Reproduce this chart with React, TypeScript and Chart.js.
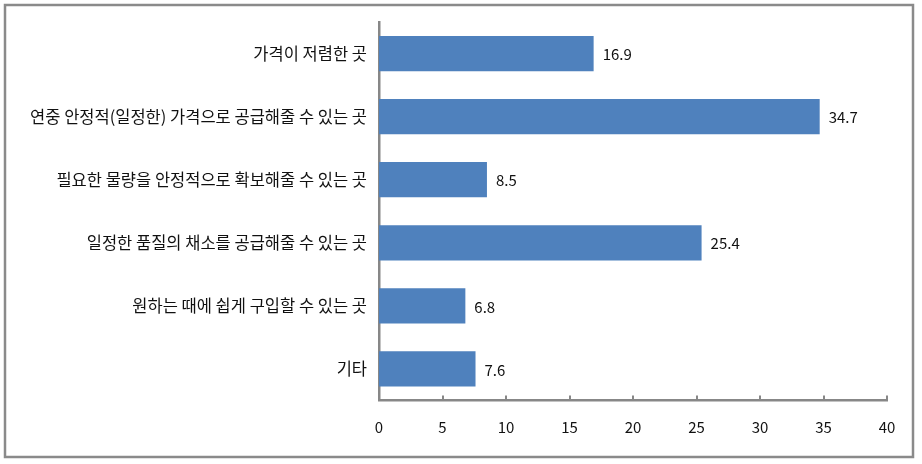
import React, { useEffect, useRef } from "react";
import { Chart, registerables } from "chart.js";

Chart.register(...registerables);

const categories = [
  "가격이 저렴한 곳",
  "연중 안정적(일정한) 가격으로 공급해줄 수 있는 곳",
  "필요한 물량을 안정적으로 확보해줄 수 있는 곳",
  "일정한 품질의 채소를 공급해줄 수 있는 곳",
  "원하는 때에 쉽게 구입할 수 있는 곳",
  "기타",
];
const values = [16.9, 34.7, 8.5, 25.4, 6.8, 7.6];
const xMin = 0;
const xMax = 40;
const xStep = 5;

const FONT = "'Noto Sans CJK KR', 'Noto Sans', sans-serif";
const AXIS_COLOR = "#878787";

const framePlugin = {
  id: "frame",
  afterDraw(chart: any) {
    const ctx = chart.ctx;
    ctx.save();
    ctx.strokeStyle = "#8a8a8a";
    ctx.lineWidth = 2.5;
    ctx.strokeRect(5, 5, 908, 452);
    // inward tick marks on x axis
    const xs = chart.scales.x;
    const bottom = chart.chartArea.bottom;
    ctx.strokeStyle = AXIS_COLOR;
    ctx.lineWidth = 2;
    xs.ticks.forEach((t: any) => {
      const px = Math.round(xs.getPixelForValue(t.value));
      ctx.beginPath();
      ctx.moveTo(px, bottom);
      ctx.lineTo(px, bottom - 5);
      ctx.stroke();
    });
    // value labels
    const meta = chart.getDatasetMeta(0);
    ctx.fillStyle = "#111";
    ctx.font = `15px ${FONT}`;
    ctx.textAlign = "left";
    ctx.textBaseline = "middle";
    meta.data.forEach((el: any, i: number) => {
      ctx.fillText(String(values[i]), el.x + 9, el.y + 1);
    });
    ctx.restore();
  },
};

export default function App() {
  const ref = useRef<HTMLCanvasElement | null>(null);
  useEffect(() => {
    if (!ref.current) return;
    const chart = new Chart(ref.current, {
      type: "bar",
      data: {
        labels: categories,
        datasets: [
          {
            data: values,
            backgroundColor: "#4f81bd",
            borderWidth: 0,
            categoryPercentage: 1,
            barPercentage: 0.56,
          },
        ],
      },
      options: {
        indexAxis: "y",
        responsive: false,
        animation: false,
        layout: { padding: { top: 22, right: 35, left: 0, bottom: 0 } },
        plugins: { legend: { display: false }, tooltip: { enabled: false } },
        scales: {
          x: {
            min: xMin,
            max: xMax,
            ticks: {
              stepSize: xStep,
              color: "#111",
              font: { family: FONT, size: 15 },
              padding: 18,
            },
            grid: { display: false, drawTicks: false, tickLength: 0 },
            border: { display: true, color: AXIS_COLOR, width: 2.5 },
            afterFit: (s: any) => {
              s.height = 63.5;
            },
          },
          y: {
            ticks: {
              color: "#111",
              font: { family: FONT, size: 16.5 },
              padding: 12,
            },
            grid: { display: false, drawTicks: false, tickLength: 0 },
            border: { display: true, color: AXIS_COLOR, width: 2.5 },
            afterFit: (s: any) => {
              s.width = 379;
            },
          },
        },
      },
      plugins: [framePlugin],
    });
    return () => chart.destroy();
  }, []);
  return (
    <div style={{ position: "absolute", left: 0, top: 0, width: 922, height: 464, background: "#fff" }}>
      <canvas ref={ref} width={922} height={464} />
    </div>
  );
}
